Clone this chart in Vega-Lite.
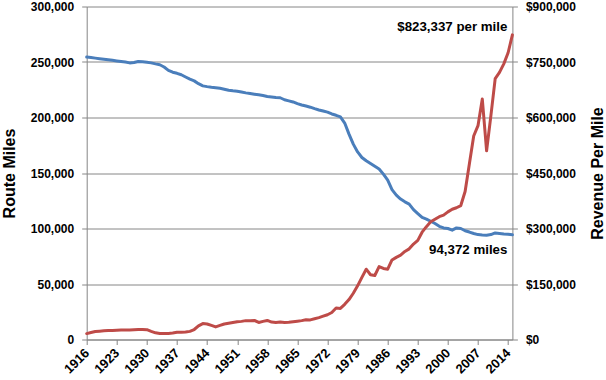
{
  "$schema": "https://vega.github.io/schema/vega-lite/v6.json",
  "width": 425.7,
  "height": 333,
  "autosize": {"type": "none"},
  "padding": {"left": 86.7, "top": 6.5, "right": 93.6, "bottom": 40.5},
  "background": "white",
  "config": {
    "font": "Liberation Sans",
    "view": {"stroke": null},
    "axis": {
      "labelFont": "Liberation Sans",
      "labelFontWeight": "bold",
      "labelFontSize": 12,
      "labelColor": "#000000",
      "titleFont": "Liberation Sans",
      "titleFontWeight": "bold",
      "titleFontSize": 16,
      "titleColor": "#000000",
      "domainColor": "#868686",
      "tickColor": "#868686",
      "gridColor": "#868686",
      "tickSize": 5,
      "domainWidth": 1,
      "tickWidth": 1,
      "gridWidth": 1
    },
    "axisX": {"labelAngle": -45, "labelAlign": "right", "labelBaseline": "middle"}
  },
  "data": {
    "values": [
      {"year": 1916, "miles": 254500, "revenue": 16000},
      {"year": 1917, "miles": 254000, "revenue": 19000},
      {"year": 1918, "miles": 253500, "revenue": 21500},
      {"year": 1919, "miles": 253000, "revenue": 22500},
      {"year": 1920, "miles": 252500, "revenue": 23500},
      {"year": 1921, "miles": 252000, "revenue": 24000},
      {"year": 1922, "miles": 251500, "revenue": 24500},
      {"year": 1923, "miles": 251000, "revenue": 25000},
      {"year": 1924, "miles": 250500, "revenue": 25500},
      {"year": 1925, "miles": 250000, "revenue": 26000},
      {"year": 1926, "miles": 249200, "revenue": 26000},
      {"year": 1927, "miles": 249500, "revenue": 26500},
      {"year": 1928, "miles": 250500, "revenue": 27000},
      {"year": 1929, "miles": 250300, "revenue": 27000},
      {"year": 1930, "miles": 249800, "revenue": 26500},
      {"year": 1931, "miles": 249200, "revenue": 22000},
      {"year": 1932, "miles": 248300, "revenue": 18000},
      {"year": 1933, "miles": 247500, "revenue": 16000},
      {"year": 1934, "miles": 245500, "revenue": 16000},
      {"year": 1935, "miles": 242500, "revenue": 16500},
      {"year": 1936, "miles": 240800, "revenue": 17500},
      {"year": 1937, "miles": 239800, "revenue": 19500},
      {"year": 1938, "miles": 238500, "revenue": 19500},
      {"year": 1939, "miles": 236500, "revenue": 20000},
      {"year": 1940, "miles": 234500, "revenue": 22000},
      {"year": 1941, "miles": 233000, "revenue": 27000},
      {"year": 1942, "miles": 230500, "revenue": 37000},
      {"year": 1943, "miles": 228500, "revenue": 43000},
      {"year": 1944, "miles": 227800, "revenue": 42000},
      {"year": 1945, "miles": 227200, "revenue": 38000},
      {"year": 1946, "miles": 226800, "revenue": 34000},
      {"year": 1947, "miles": 226300, "revenue": 38000},
      {"year": 1948, "miles": 225500, "revenue": 42000},
      {"year": 1949, "miles": 224500, "revenue": 44000},
      {"year": 1950, "miles": 224000, "revenue": 46000},
      {"year": 1951, "miles": 223700, "revenue": 48000},
      {"year": 1952, "miles": 223000, "revenue": 49000},
      {"year": 1953, "miles": 222200, "revenue": 51000},
      {"year": 1954, "miles": 221600, "revenue": 51000},
      {"year": 1955, "miles": 221000, "revenue": 51500},
      {"year": 1956, "miles": 220400, "revenue": 46000},
      {"year": 1957, "miles": 219800, "revenue": 49000},
      {"year": 1958, "miles": 219000, "revenue": 51500},
      {"year": 1959, "miles": 218500, "revenue": 47000},
      {"year": 1960, "miles": 218000, "revenue": 46000},
      {"year": 1961, "miles": 217800, "revenue": 47000},
      {"year": 1962, "miles": 216000, "revenue": 46000},
      {"year": 1963, "miles": 215000, "revenue": 46500},
      {"year": 1964, "miles": 214000, "revenue": 48000},
      {"year": 1965, "miles": 212500, "revenue": 49500},
      {"year": 1966, "miles": 211300, "revenue": 51000},
      {"year": 1967, "miles": 210300, "revenue": 53500},
      {"year": 1968, "miles": 209300, "revenue": 53000},
      {"year": 1969, "miles": 208000, "revenue": 56000},
      {"year": 1970, "miles": 206800, "revenue": 59000},
      {"year": 1971, "miles": 205800, "revenue": 63000},
      {"year": 1972, "miles": 204800, "revenue": 67000},
      {"year": 1973, "miles": 203200, "revenue": 73000},
      {"year": 1974, "miles": 202000, "revenue": 85000},
      {"year": 1975, "miles": 200500, "revenue": 84000},
      {"year": 1976, "miles": 195000, "revenue": 95000},
      {"year": 1977, "miles": 185000, "revenue": 108000},
      {"year": 1978, "miles": 176000, "revenue": 125000},
      {"year": 1979, "miles": 169000, "revenue": 145000},
      {"year": 1980, "miles": 164000, "revenue": 168000},
      {"year": 1981, "miles": 161000, "revenue": 190000},
      {"year": 1982, "miles": 158500, "revenue": 175000},
      {"year": 1983, "miles": 156000, "revenue": 173000},
      {"year": 1984, "miles": 153600, "revenue": 197000},
      {"year": 1985, "miles": 149000, "revenue": 192000},
      {"year": 1986, "miles": 143500, "revenue": 190000},
      {"year": 1987, "miles": 135000, "revenue": 215000},
      {"year": 1988, "miles": 130000, "revenue": 222000},
      {"year": 1989, "miles": 126500, "revenue": 228000},
      {"year": 1990, "miles": 124000, "revenue": 238000},
      {"year": 1991, "miles": 122000, "revenue": 245000},
      {"year": 1992, "miles": 117000, "revenue": 258000},
      {"year": 1993, "miles": 113500, "revenue": 268000},
      {"year": 1994, "miles": 110000, "revenue": 290000},
      {"year": 1995, "miles": 108500, "revenue": 305000},
      {"year": 1996, "miles": 106500, "revenue": 318000},
      {"year": 1997, "miles": 104500, "revenue": 325000},
      {"year": 1998, "miles": 102000, "revenue": 332000},
      {"year": 1999, "miles": 100500, "revenue": 336000},
      {"year": 2000, "miles": 100000, "revenue": 345000},
      {"year": 2001, "miles": 98500, "revenue": 352000},
      {"year": 2002, "miles": 100500, "revenue": 356000},
      {"year": 2003, "miles": 100000, "revenue": 362000},
      {"year": 2004, "miles": 98000, "revenue": 400000},
      {"year": 2005, "miles": 96800, "revenue": 475000},
      {"year": 2006, "miles": 95500, "revenue": 550000},
      {"year": 2007, "miles": 94500, "revenue": 578000},
      {"year": 2008, "miles": 94200, "revenue": 650000},
      {"year": 2009, "miles": 94000, "revenue": 510000},
      {"year": 2010, "miles": 94500, "revenue": 605000},
      {"year": 2011, "miles": 96000, "revenue": 705000},
      {"year": 2012, "miles": 95500, "revenue": 722000},
      {"year": 2013, "miles": 95000, "revenue": 745000},
      {"year": 2014, "miles": 94800, "revenue": 775000},
      {"year": 2015, "miles": 94372, "revenue": 823337}
    ]
  },
  "encoding": {
    "x": {
      "field": "year",
      "type": "quantitative",
      "scale": {"domain": [1916, 2015], "nice": false, "zero": false},
      "axis": {
        "title": null,
        "values": [1916, 1923, 1930, 1937, 1944, 1951, 1958, 1965, 1972, 1979, 1986, 1993, 2000, 2007, 2014],
        "format": "d",
        "labelAngle": 315,
        "labelAlign": "right",
        "labelBaseline": "middle",
        "labelFontSize": 13,
        "labelPadding": 6,
        "labelOverlap": false,
        "grid": false
      }
    }
  },
  "layer": [
    {
      "layer": [
        {
          "mark": {"type": "line", "color": "#4A7EBB", "strokeWidth": 3, "strokeJoin": "round", "strokeCap": "round"},
          "encoding": {
            "y": {
              "field": "miles",
              "type": "quantitative",
              "scale": {"domain": [0, 300000], "nice": false},
              "axis": {
                "title": "Route Miles",
                "values": [0, 50000, 100000, 150000, 200000, 250000, 300000],
                "format": ",.0f",
                "grid": true,
                "labelPadding": 8,
                "titleAngle": -90,
                "titleX": -72,
                "titleY": 166.5,
                "titleAlign": "center",
                "titleBaseline": "alphabetic"
              }
            }
          }
        },
        {
          "transform": [{"filter": "datum.year == 2015"}],
          "mark": {"type": "text", "align": "right", "baseline": "middle", "dx": -5, "dy": 15, "fontWeight": "bold", "fontSize": 13.3, "font": "Liberation Sans", "color": "#000000"},
          "encoding": {
            "y": {
              "field": "miles",
              "type": "quantitative",
              "scale": {"domain": [0, 300000], "nice": false},
              "axis": {
                "title": "Route Miles",
                "values": [0, 50000, 100000, 150000, 200000, 250000, 300000],
                "format": ",.0f",
                "grid": true,
                "labelPadding": 8,
                "titleAngle": -90,
                "titleX": -72,
                "titleY": 166.5,
                "titleAlign": "center",
                "titleBaseline": "alphabetic"
              }
            },
            "text": {"value": "94,372 miles"}
          }
        }
      ]
    },
    {
      "layer": [
        {
          "mark": {"type": "line", "color": "#BE4B48", "strokeWidth": 3, "strokeJoin": "round", "strokeCap": "round"},
          "encoding": {
            "y": {
              "field": "revenue",
              "type": "quantitative",
              "scale": {"domain": [0, 900000], "nice": false},
              "axis": {
                "orient": "right",
                "title": "Revenue Per Mile",
                "values": [0, 150000, 300000, 450000, 600000, 750000, 900000],
                "format": "$,.0f",
                "grid": false,
                "labelPadding": 8,
                "titleAngle": -90,
                "titleX": 90.4,
                "titleY": 166.5,
                "titleAlign": "center",
                "titleBaseline": "alphabetic"
              }
            }
          }
        },
        {
          "transform": [{"filter": "datum.year == 2015"}],
          "mark": {"type": "text", "align": "right", "baseline": "middle", "dx": -5, "dy": -8, "fontWeight": "bold", "fontSize": 13.3, "font": "Liberation Sans", "color": "#000000"},
          "encoding": {
            "y": {
              "field": "revenue",
              "type": "quantitative",
              "scale": {"domain": [0, 900000], "nice": false},
              "axis": {
                "orient": "right",
                "title": "Revenue Per Mile",
                "values": [0, 150000, 300000, 450000, 600000, 750000, 900000],
                "format": "$,.0f",
                "grid": false,
                "labelPadding": 8,
                "titleAngle": -90,
                "titleX": 90.4,
                "titleY": 166.5,
                "titleAlign": "center",
                "titleBaseline": "alphabetic"
              }
            },
            "text": {"value": "$823,337 per mile"}
          }
        }
      ]
    }
  ],
  "resolve": {"scale": {"y": "independent"}}
}
